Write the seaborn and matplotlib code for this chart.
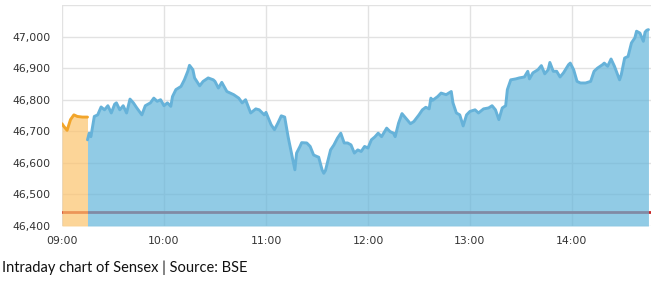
import matplotlib
matplotlib.use("Agg")
import matplotlib.pyplot as plt
import seaborn as sns
import pandas as pd

# Pre-open session (orange)
pre_times = ["09:00", "09:01", "09:03", "09:05", "09:07", "09:09", "09:12", "09:15"]
pre_values = [46724, 46716, 46703, 46737, 46752, 46747, 46745, 46745]

# Regular session (blue)
times = [
    "09:15", "09:16", "09:17", "09:19", "09:21", "09:23", "09:25", "09:27", "09:29", "09:31",
    "09:32", "09:34", "09:36", "09:38", "09:40", "09:42", "09:44", "09:47", "09:49", "09:52",
    "09:54", "09:56", "09:58", "10:00", "10:02", "10:04", "10:05", "10:07", "10:10", "10:12",
    "10:14", "10:15", "10:17", "10:18", "10:21", "10:23", "10:26", "10:29", "10:30", "10:32",
    "10:34", "10:37", "10:41", "10:44", "10:46", "10:48", "10:51", "10:54", "10:56", "10:59",
    "11:00", "11:03", "11:05", "11:07", "11:09", "11:11", "11:13", "11:15", "11:17", "11:18",
    "11:20", "11:21", "11:24", "11:26", "11:28", "11:30", "11:31", "11:33", "11:34", "11:35",
    "11:38", "11:40", "11:42", "11:44", "11:46", "11:48", "11:50", "11:52", "11:54", "11:56",
    "11:58", "12:00", "12:02", "12:04", "12:06", "12:08", "12:11", "12:13", "12:15", "12:16",
    "12:18", "12:20", "12:23", "12:25", "12:27", "12:30", "12:32", "12:34", "12:36", "12:37",
    "12:38", "12:41", "12:43", "12:46", "12:49", "12:50", "12:52", "12:54", "12:56", "12:58",
    "13:00", "13:03", "13:05", "13:08", "13:11", "13:13", "13:15", "13:17", "13:19", "13:21",
    "13:22", "13:24", "13:27", "13:29", "13:32", "13:34", "13:35", "13:37", "13:40", "13:42",
    "13:44", "13:46", "13:47", "13:49", "13:51", "13:53", "13:55", "13:58", "13:59", "14:01",
    "14:03", "14:05", "14:08", "14:11", "14:13", "14:15", "14:18", "14:19", "14:21", "14:23",
    "14:25", "14:28", "14:29", "14:31", "14:33", "14:35", "14:37", "14:38", "14:40", "14:42",
    "14:43", "14:44", "14:45",
]
values = [
    46673, 46694, 46683, 46747, 46752, 46777, 46768, 46781, 46758, 46786,
    46790, 46768, 46781, 46758, 46802, 46790, 46774, 46752, 46781, 46790,
    46805, 46795, 46800, 46781, 46790, 46779, 46810, 46832, 46842, 46863,
    46890, 46909, 46895, 46869, 46844, 46858, 46869, 46863, 46858, 46837,
    46855, 46826, 46816, 46805, 46790, 46800, 46758, 46771, 46768, 46752,
    46760, 46721, 46705, 46726, 46749, 46745, 46683, 46631, 46578, 46631,
    46652, 46664, 46663, 46652, 46625, 46620, 46618, 46578, 46567, 46576,
    46641, 46657, 46678, 46694, 46663, 46663, 46657, 46631, 46641, 46636,
    46652, 46647, 46673, 46682, 46694, 46683, 46710, 46699, 46694, 46683,
    46726, 46756, 46737, 46724, 46731, 46752, 46768, 46776, 46771, 46805,
    46798, 46810, 46821, 46816, 46826, 46790, 46758, 46752, 46717, 46752,
    46763, 46768, 46758, 46771, 46774, 46781, 46768, 46737, 46774, 46781,
    46832, 46863, 46866, 46869, 46872, 46890, 46866, 46885, 46895, 46908,
    46882, 46895, 46918, 46890, 46890, 46872, 46885, 46911, 46916, 46895,
    46858, 46853, 46853, 46858, 46890, 46900, 46911, 46916, 46906, 46929,
    46906, 46863, 46879, 46932, 46937, 46980, 46996, 47017, 47011, 46985,
    47014, 47020, 47022,
]

prev_close = 46444
y_ticks = [46400, 46500, 46600, 46700, 46800, 46900, 47000, 47100]
x_tick_labels = ["09:00", "10:00", "11:00", "12:00", "13:00", "14:00"]
caption = "Intraday chart of Sensex | Source: BSE"


def to_minutes(ts):
    return [int(t[:2]) * 60 + int(t[3:]) - 9 * 60 for t in ts]


pre = pd.DataFrame({"m": to_minutes(pre_times), "v": pre_values})
reg = pd.DataFrame({"m": to_minutes(times), "v": values})

sns.set_theme(style="white")
plt.rcParams["font.family"] = ["DejaVu Sans"]

fig = plt.figure(figsize=(6.55, 2.81), dpi=100)
ax = fig.add_axes([62 / 655, 55 / 281, (651 - 62) / 655, (276 - 55) / 281])

ymin, ymax = y_ticks[0], y_ticks[-1]

# previous-close line sits beneath the translucent area fills
ax.axhline(prev_close, color="#C82828", linewidth=2, zorder=1.5)
ax.fill_between(pre["m"], pre["v"], ymin, color="#FCC46D", alpha=0.7, linewidth=0, zorder=2)
ax.fill_between(reg["m"], reg["v"], ymin, color="#63B5DA", alpha=0.7, linewidth=0, zorder=2)
sns.lineplot(data=pre, x="m", y="v", ax=ax, color="#F2A52A", linewidth=2.1, zorder=3)
sns.lineplot(data=reg, x="m", y="v", ax=ax, color="#66B2D9", linewidth=2.1, zorder=3)

ax.set_xlim(0, 346.5)
ax.set_ylim(ymin, ymax)
ax.set_yticks(y_ticks)
ax.set_yticklabels([f"{v:,}" for v in y_ticks[:-1]] + [""])
ax.set_xticks([i * 60 for i in range(len(x_tick_labels))])
ax.set_xticklabels(x_tick_labels)
ax.grid(True, color="#E2E2E2", linewidth=1, zorder=0)
ax.set_axisbelow(True)
for s in ax.spines.values():
    s.set_visible(False)
ax.tick_params(axis="both", length=0, labelsize=7.8, labelcolor="#333333")
ax.tick_params(axis="y", pad=8)
ax.tick_params(axis="x", pad=7)
ax.set_xlabel("")
ax.set_ylabel("")

fig.text(2 / 655, 1 - 268 / 281, caption, ha="left", va="center",
         fontsize=10.5, family=["Lato", "DejaVu Sans"], color="#111111")

fig.savefig("out.png", dpi=100, facecolor="white")
